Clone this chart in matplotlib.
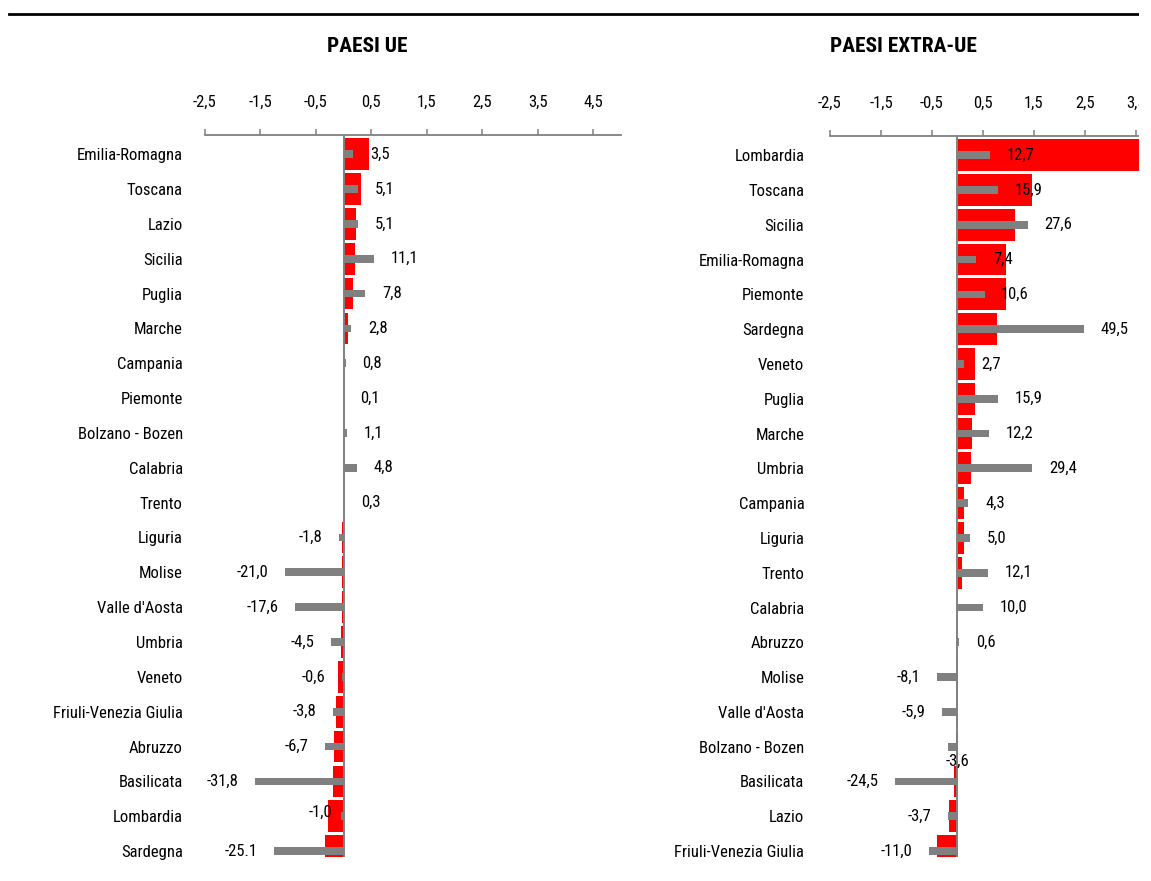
import matplotlib
matplotlib.use("Agg")
import matplotlib.pyplot as plt
from matplotlib import font_manager
from matplotlib.font_manager import FontProperties
from matplotlib.textpath import TextPath
from matplotlib.lines import Line2D
from matplotlib.patches import Rectangle

# ---------------- data ----------------
regions_ue = ["Emilia-Romagna", "Toscana", "Lazio", "Sicilia", "Puglia", "Marche",
              "Campania", "Piemonte", "Bolzano - Bozen", "Calabria", "Trento",
              "Liguria", "Molise", "Valle d'Aosta", "Umbria", "Veneto",
              "Friuli-Venezia Giulia", "Abruzzo", "Basilicata", "Lombardia", "Sardegna"]
contrib_ue = [0.45, 0.32, 0.23, 0.21, 0.16, 0.07, 0.01, 0.005, 0.005, 0.01, 0.005,
              -0.03, -0.035, -0.035, -0.054, -0.11, -0.14, -0.18, -0.20, -0.29, -0.34]
pct_ue = [3.5, 5.1, 5.1, 11.1, 7.8, 2.8, 0.8, 0.1, 1.1, 4.8, 0.3,
          -1.8, -21.0, -17.6, -4.5, -0.6, -3.8, -6.7, -31.8, -1.0, -25.1]
labels_ue = ["3,5", "5,1", "5,1", "11,1", "7,8", "2,8", "0,8", "0,1", "1,1", "4,8", "0,3",
             "-1,8", "-21,0", "-17,6", "-4,5", "-0,6", "-3,8", "-6,7", "-31,8", "-1,0", "-25.1"]

regions_xue = ["Lombardia", "Toscana", "Sicilia", "Emilia-Romagna", "Piemonte", "Sardegna",
               "Veneto", "Puglia", "Marche", "Umbria", "Campania", "Liguria", "Trento",
               "Calabria", "Abruzzo", "Molise", "Valle d'Aosta", "Bolzano - Bozen",
               "Basilicata", "Lazio", "Friuli-Venezia Giulia"]
contrib_xue = [3.8, 1.47, 1.12, 0.95, 0.95, 0.77, 0.34, 0.34, 0.29, 0.27, 0.13, 0.13, 0.09,
               0.004, 0.002, -0.004, -0.004, -0.03, -0.065, -0.16, -0.41]
pct_xue = [12.7, 15.9, 27.6, 7.4, 10.6, 49.5, 2.7, 15.9, 12.2, 29.4, 4.3, 5.0, 12.1,
           10.0, 0.6, -8.1, -5.9, -3.6, -24.5, -3.7, -11.0]
labels_xue = ["12,7", "15,9", "27,6", "7,4", "10,6", "49,5", "2,7", "15,9", "12,2", "29,4",
              "4,3", "5,0", "12,1", "10,0", "0,6", "-8,1", "-5,9", "-3,6", "-24,5", "-3,7", "-11,0"]

xticks = [-2.5, -1.5, -0.5, 0.5, 1.5, 2.5, 3.5, 4.5]
xtick_labels = ["-2,5", "-1,5", "-0,5", "0,5", "1,5", "2,5", "3,5", "4,5"]

# ---------------- fonts ----------------
names = {f.name for f in font_manager.fontManager.ttflist}
prefs = ["Liberation Sans Narrow", "Arial Narrow", "Roboto Condensed", "Pragati Narrow",
         "Archivo Narrow", "PT Sans Narrow", "Liberation Sans"]
main_font = next((p for p in prefs if p in names), "DejaVu Sans")
FAM = [main_font, "DejaVu Sans"]
plt.rcParams["font.family"] = FAM


def size_for(text, target_px, weight="normal"):
    fp = FontProperties(family=main_font, weight=weight)
    w = TextPath((0, 0), text, size=10, prop=fp).get_extents().width  # points at size 10
    return 10 * target_px / (w * 100 / 72)


FS = size_for("Emilia-Romagna", 104)
TFS = size_for("PAESI EXTRA-UE", 145, "bold")

RED = "#FF0000"
GREY = "#808080"

W, H = 1151, 881
fig = plt.figure(figsize=(W / 100, H / 100), dpi=100)


def px_rect(x0, x1, ytop, ybot):
    return [x0 / W, 1 - ybot / H, (x1 - x0) / W, (ybot - ytop) / H]


def panel(rect, regions, contrib, pct, labels, ypad, special=None):
    ax = fig.add_axes(rect)
    n = len(regions)
    ypos = list(range(n))
    ax.barh(ypos, contrib, height=0.91, color=RED, zorder=2)
    ax.set_xlim(-2.5, 5.0)
    ax.set_ylim(20.17, -0.55)
    ax.patch.set_visible(False)

    ax2 = ax.twiny()
    ax2.set_xlim(-50, 100)
    ax2.barh(ypos, pct, height=0.22, color=GREY, zorder=3)
    ax2.axvline(0, color=GREY, lw=1.4, zorder=4)
    ax2.set_xticks([])
    ax2.tick_params(axis="x", length=0, labeltop=False, labelbottom=False)
    for s in ax2.spines.values():
        s.set_visible(False)

    # primary axis: ticks on top
    ax.set_yticks(ypos)
    ax.set_yticklabels(regions, fontsize=FS)
    ax.tick_params(axis="y", length=0, pad=ypad)
    ax.xaxis.tick_top()
    ax.set_xticks(xticks)
    ax.set_xticklabels(xtick_labels, fontsize=FS)
    ax.tick_params(axis="x", which="both", top=True, bottom=False, labeltop=True,
                   labelbottom=False, direction="out", length=4, width=1.1,
                   color=GREY, pad=14)
    for s in ["left", "right", "bottom"]:
        ax.spines[s].set_visible(False)
    ax.spines["top"].set_color(GREY)
    ax.spines["top"].set_linewidth(1.3)

    for i, (v, lab) in enumerate(zip(pct, labels)):
        dx, dy = (12, 0) if v >= 0 else (-12, 0)
        ha = "left" if v >= 0 else "right"
        xv = v
        if special and i in special:
            mode, ox, oy = special[i]
            if mode == "below":
                xv, ha = 0, "center"
            dx, dy = ox, oy
        ax2.annotate(lab, (xv, i), xytext=(dx, dy), textcoords="offset points",
                     ha=ha, va="center", fontsize=FS, color="black", zorder=5,
                     annotation_clip=False)
    return ax


# left panel
panel(px_rect(205, 621, 135, 857), regions_ue, contrib_ue, pct_ue, labels_ue, ypad=16,
      special={19: ("side", -6.5, 3)})
# right panel (extends beyond the visible picture and is cropped)
panel(px_rect(830, 1212.5, 136, 857), regions_xue, contrib_xue, pct_xue, labels_xue, ypad=18.5,
      special={17: ("below", 0, -10.5)})

# titles
fig.text(367 / W, 1 - 47 / H, "PAESI UE", ha="center", va="center",
         fontsize=TFS, fontweight="bold")
fig.text(903 / W, 1 - 47 / H, "PAESI EXTRA-UE", ha="center", va="center",
         fontsize=TFS, fontweight="bold")

# top rule
fig.add_artist(Line2D([9 / W, 1139 / W], [1 - 14 / H, 1 - 14 / H], color="black",
                      lw=2.0, transform=fig.transFigure))

# crop at right edge
fig.add_artist(Rectangle((1139 / W, 0), (W - 1139) / W, 1, transform=fig.transFigure,
                         facecolor="white", edgecolor="none", zorder=20))

fig.savefig("out.png", dpi=100)
